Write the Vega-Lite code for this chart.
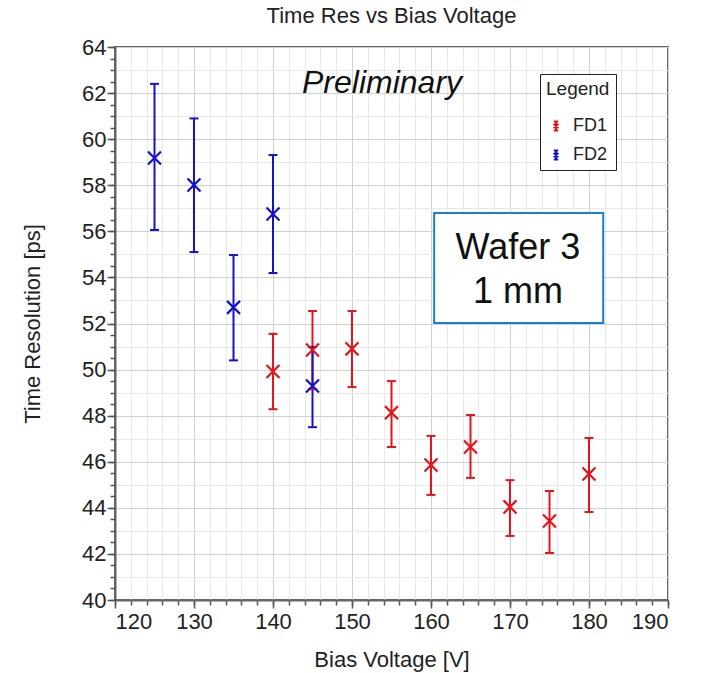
{
  "$schema": "https://vega.github.io/schema/vega-lite/v6.json",
  "width": 553,
  "height": 553,
  "autosize": {"type": "none"},
  "padding": {"left": 115, "top": 47, "right": 33, "bottom": 73},
  "background": "white",
  "config": {
    "font": "Liberation Sans",
    "view": {"stroke": "#666666", "strokeWidth": 2},
    "axis": {"labelFont": "Liberation Sans", "titleFont": "Liberation Sans", "labelColor": "#222222", "titleColor": "#222222", "titleFontWeight": "normal"},
    "legend": {"labelFont": "Liberation Sans", "titleFont": "Liberation Sans"}
  },
  "title": {"text": "Time Res vs Bias Voltage", "fontSize": 22, "fontWeight": "normal", "color": "#222222", "offset": 8, "anchor": "middle"},
  "datasets": {
    "pts": [
      {"series": "FD1", "v": 140, "t": 49.92, "lo": 48.28, "hi": 51.55},
      {"series": "FD1", "v": 145, "t": 50.85, "lo": 49.15, "hi": 52.54},
      {"series": "FD1", "v": 150, "t": 50.9, "lo": 49.24, "hi": 52.54},
      {"series": "FD1", "v": 155, "t": 48.13, "lo": 46.64, "hi": 49.5},
      {"series": "FD1", "v": 160, "t": 45.86, "lo": 44.56, "hi": 47.12},
      {"series": "FD1", "v": 165, "t": 46.64, "lo": 45.3, "hi": 48.03},
      {"series": "FD1", "v": 170, "t": 44.04, "lo": 42.78, "hi": 45.2},
      {"series": "FD1", "v": 175, "t": 43.43, "lo": 42.04, "hi": 44.73},
      {"series": "FD1", "v": 180, "t": 45.47, "lo": 43.82, "hi": 47.03},
      {"series": "FD2", "v": 125, "t": 59.18, "lo": 56.06, "hi": 62.4},
      {"series": "FD2", "v": 130, "t": 58.01, "lo": 55.1, "hi": 60.9},
      {"series": "FD2", "v": 135, "t": 52.7, "lo": 50.4, "hi": 54.97},
      {"series": "FD2", "v": 140, "t": 56.75, "lo": 54.19, "hi": 59.31},
      {"series": "FD2", "v": 145, "t": 49.29, "lo": 47.5, "hi": 50.98}
    ],
    "box": [
      {"x1": 160.4, "x2": 181.8, "y1": 52.02, "y2": 56.8}
    ],
    "labels": [
      {"x": 171.0, "y": 55.28, "text": "Wafer 3", "kind": "box"},
      {"x": 171.0, "y": 53.37, "text": "1 mm", "kind": "box"},
      {"x": 153.8, "y": 62.44, "text": "Preliminary", "kind": "prelim"}
    ]
  },
  "resolve": {"axis": {"x": "independent", "y": "independent"}},
  "layer": [
    {
      "data": {"name": "pts"},
      "mark": {"type": "rule", "strokeWidth": 2},
      "encoding": {
        "x": {"field": "v", "type": "quantitative", "scale": {"domain": [120, 190], "nice": false, "zero": false},
          "axis": {"orient": "bottom", "values": [120,122,124,126,128,130,132,134,136,138,140,142,144,146,148,150,152,154,156,158,160,162,164,166,168,170,172,174,176,178,180,182,184,186,188,190],
            "grid": true, "gridColor": "#e8e8e8", "gridWidth": 1, "labels": false, "ticks": true, "tickSize": 5, "tickColor": "#555555", "tickWidth": 1.5, "domain": false, "title": null}},
        "y": {"field": "lo", "type": "quantitative", "scale": {"domain": [40, 64], "nice": false, "zero": false},
          "axis": {"orient": "left", "values": [40,41,42,43,44,45,46,47,48,49,50,51,52,53,54,55,56,57,58,59,60,61,62,63,64],
            "grid": true, "gridColor": "#e8e8e8", "gridWidth": 1, "labels": false, "ticks": false, "domain": false, "title": null}},
        "y2": {"field": "hi"},
        "color": {"field": "series", "type": "nominal", "scale": {"domain": ["FD1", "FD2"], "range": ["#e3141b", "#1212c8"]},
          "legend": {"title": "Legend", "orient": "none", "legendX": 425, "legendY": 27,
            "titleFontSize": 19, "titleFontWeight": "normal", "titleColor": "#222222", "titlePadding": 18,
            "labelFontSize": 18, "labelColor": "#222222", "labelOffset": 8,
            "symbolType": "M-0.5,-1H0.5M0,-1V1M-0.5,1H0.5M-0.55,-0.45L0.55,0.45M0.55,-0.45L-0.55,0.45",
            "symbolSize": 80, "symbolStrokeWidth": 2, "symbolOffset": 1, "symbolFillColor": "transparent", "rowPadding": 11,
            "padding": 6, "strokeColor": "#222222", "fillColor": "white"}}
      }
    },
    {
      "data": {"name": "pts"},
      "mark": {"type": "tick", "orient": "horizontal", "size": 9, "thickness": 2, "opacity": 1},
      "encoding": {
        "x": {"field": "v", "type": "quantitative",
          "axis": {"orient": "bottom", "values": [120,130,140,150,160,170,180,190], "grid": true, "gridColor": "#d0d0d0", "gridWidth": 1,
            "labels": true, "labelFontSize": 22, "labelPadding": 3, "ticks": true, "tickSize": 8, "tickColor": "#555555", "tickWidth": 1.5,
            "domain": true, "domainColor": "#666666", "domainWidth": 2,
            "title": "Bias Voltage [V]", "titleFontSize": 22, "titleY": 59, "titleBaseline": "middle"}},
        "y": {"field": "hi", "type": "quantitative",
          "axis": {"orient": "left", "values": [40,42,44,46,48,50,52,54,56,58,60,62,64], "grid": true, "gridColor": "#d0d0d0", "gridWidth": 1,
            "labels": true, "labelFontSize": 22, "labelPadding": 1, "ticks": true, "tickSize": 8, "tickColor": "#555555", "tickWidth": 1.5,
            "domain": true, "domainColor": "#666666", "domainWidth": 2,
            "title": "Time Resolution [ps]", "titleFontSize": 22, "titleX": -83, "titleBaseline": "middle"}},
        "color": {"field": "series", "type": "nominal"}
      }
    },
    {
      "data": {"name": "pts"},
      "mark": {"type": "tick", "orient": "horizontal", "size": 9, "thickness": 2, "opacity": 1},
      "encoding": {
        "x": {"field": "v", "type": "quantitative", "axis": null},
        "y": {"field": "lo", "type": "quantitative",
          "axis": {"orient": "left", "values": [40,40.5,41,41.5,42,42.5,43,43.5,44,44.5,45,45.5,46,46.5,47,47.5,48,48.5,49,49.5,50,50.5,51,51.5,52,52.5,53,53.5,54,54.5,55,55.5,56,56.5,57,57.5,58,58.5,59,59.5,60,60.5,61,61.5,62,62.5,63,63.5,64],
            "grid": false, "labels": false, "ticks": true, "tickSize": 5, "tickColor": "#555555", "tickWidth": 1.5, "domain": false, "title": null}},
        "color": {"field": "series", "type": "nominal"}
      }
    },
    {
      "data": {"name": "pts"},
      "mark": {"type": "point", "shape": "M-1,-1L1,1M1,-1L-1,1", "size": 170, "strokeWidth": 2.2, "filled": false, "opacity": 1},
      "encoding": {
        "x": {"field": "v", "type": "quantitative", "axis": null},
        "y": {"field": "t", "type": "quantitative", "axis": null},
        "color": {"field": "series", "type": "nominal"}
      }
    },
    {
      "data": {"name": "box"},
      "mark": {"type": "rect", "fill": "white", "stroke": "#1a7fd4", "strokeWidth": 2},
      "encoding": {
        "x": {"field": "x1", "type": "quantitative", "axis": null},
        "x2": {"field": "x2"},
        "y": {"field": "y1", "type": "quantitative", "axis": null},
        "y2": {"field": "y2"}
      }
    },
    {
      "data": {"name": "labels"},
      "transform": [{"filter": "datum.kind === 'box'"}],
      "mark": {"type": "text", "fontSize": 36, "color": "#111111", "align": "center", "baseline": "middle", "font": "Liberation Sans"},
      "encoding": {
        "x": {"field": "x", "type": "quantitative", "axis": null},
        "y": {"field": "y", "type": "quantitative", "axis": null},
        "text": {"field": "text"}
      }
    },
    {
      "data": {"name": "labels"},
      "transform": [{"filter": "datum.kind === 'prelim'"}],
      "mark": {"type": "text", "fontSize": 32, "fontStyle": "italic", "color": "#111111", "align": "center", "baseline": "middle", "font": "Liberation Sans"},
      "encoding": {
        "x": {"field": "x", "type": "quantitative", "axis": null},
        "y": {"field": "y", "type": "quantitative", "axis": null},
        "text": {"field": "text"}
      }
    }
  ]
}
